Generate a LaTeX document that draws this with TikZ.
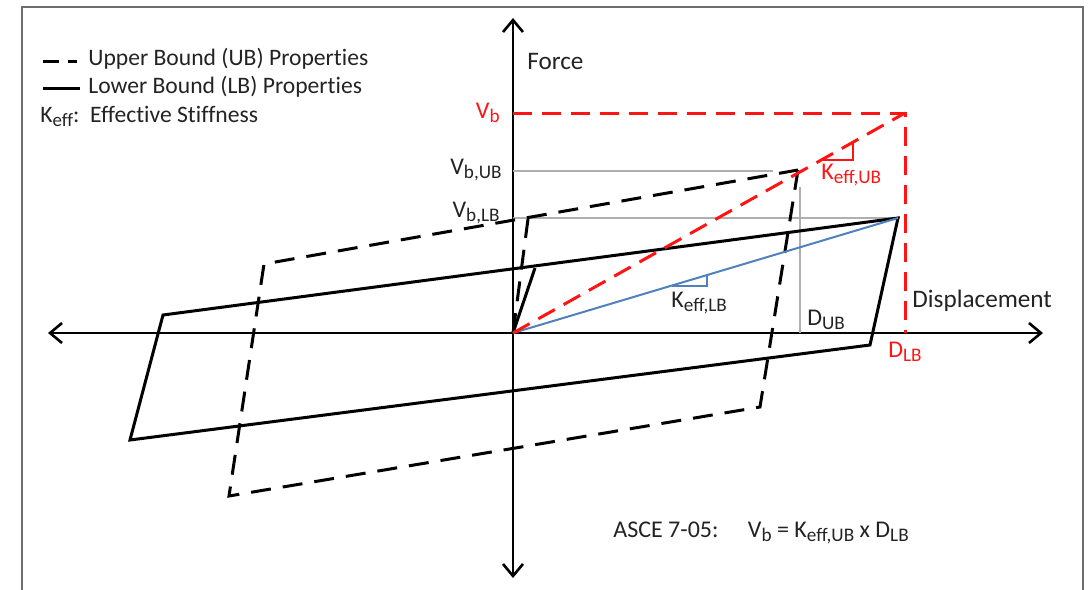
\documentclass[tikz,border=0pt]{standalone}
\usepackage{fontspec}
\setmainfont{Carlito}[RawFeature=-liga]
\usepackage{tikz}
\usetikzlibrary{arrows.meta, positioning}
\definecolor{boundred}{RGB}{255, 20, 20}
\definecolor{guidegray}{RGB}{175, 175, 175}
\definecolor{stiffblue}{RGB}{79, 129, 189}
\definecolor{framegray}{RGB}{110, 110, 110}
\definecolor{textdark}{RGB}{35, 35, 35}
\newcommand{\lowsub}[1]{\raisebox{-0.35ex}{\scalebox{0.8}{#1}}}

\begin{document}
\begin{tikzpicture}[x=0.5pt, y=-0.5pt,
		every node/.style={font=\fontsize{12}{14}\selectfont, text=textdark, inner sep=1pt},
		axis/.style={line width=1.3pt, -{Straight Barb[length=6pt, width=10pt]}},
		lbline/.style={line width=1.5pt, line join=miter},
		ubline/.style={line width=1.5pt, dash pattern=on 10pt off 6pt},
		vbline/.style={line width=1.5pt, draw=boundred, dash pattern=on 9.5pt off 5pt},
		guide/.style={line width=1pt, draw=guidegray},
		stiff/.style={line width=1pt, draw=stiffblue},
		redlabel/.style={text=boundred},
		axislabel/.style={anchor=west, font=\fontsize{12.6}{14}\selectfont},
		legendtext/.style={anchor=west, font=\fontsize{11.8}{14}\selectfont}]
		
		\useasboundingbox (0,0) rectangle (1089,590);
		\draw[line width=1pt, framegray] (22,600) -- (22,7) -- (1083,7) -- (1083,600);
		
		% axes
		\coordinate (o) at (513,333);
		\coordinate (xl) at (48,333);
		\coordinate (xr) at (1043,333);
		\coordinate (yt) at (513,18);
		\coordinate (yb) at (513,578);
		\draw[axis] (o) -- (xr);
		\draw[axis] (o) -- (xl);
		\draw[axis] (o) -- (yt);
		\draw[axis] (o) -- (yb);
		\node[axislabel] (force) at (525,61) {Force};
		\node[axislabel] (disp) at (910,301) {Displacement};
		
		% points of the loops
		\coordinate (vb) at (513,113);
		\coordinate (vbc) at (905,113);
		\coordinate (dlb) at (905,333);
		\coordinate (vub) at (513,171);
		\coordinate (vubend) at (773,171);
		\coordinate (vlb) at (513,218);
		\coordinate (vlbend) at (900,218);
		\coordinate (dub) at (800,333);
		\coordinate (dubtop) at (800,187);
		
		\coordinate (lb1) at (898,218);
		\coordinate (lb2) at (870,345);
		\coordinate (lb3) at (130,440);
		\coordinate (lb4) at (163,315);
		\coordinate (lb0) at (535,268);
		
		\coordinate (ub1) at (798,170);
		\coordinate (ub2) at (760,407);
		\coordinate (ub3) at (229,496);
		\coordinate (ub4) at (264,264);
		\coordinate (ub0) at (528,219);
		
		% guide lines
		\draw[guide] (vub) -- (vubend);
		\draw[guide] (vlb) -- (vlbend);
		\draw[guide] (dub) -- (dubtop);
		
		% lower bound loop
		\draw[lbline] (lb1) -- (lb2) -- (lb3) -- (lb4) -- cycle;
		\draw[lbline] (o) -- (lb0);
		
		% upper bound loop
		\draw[ubline] (ub1) -- (ub2) -- (ub3) -- (ub4) -- cycle;
		\draw[ubline] (o) -- (ub0);
		
		% stiffness lines
		\draw[stiff] (o) -- (lb1);
		\draw[stiff] (672,285.5) -- (707,285.5) -- (707,275);
		\draw[vbline] (vb) -- (vbc) -- (dlb);
		\draw[vbline] (o) -- (vbc);
		\draw[line width=1pt, boundred] (823,160) -- (853,160) -- (853,143);
		
		% labels
		\node[anchor=east, redlabel] (vblab) at (502,113) {V\lowsub{b}};
		\node[anchor=east] (vublab) at (504,170) {V\lowsub{b,UB}};
		\node[anchor=east] (vlblab) at (502,213) {V\lowsub{b,LB}};
		\node[anchor=west, redlabel] (kub) at (819,175) {K\lowsub{eff,UB}};
		\node[anchor=west] (klb) at (669,303) {K\lowsub{eff,LB}};
		\node[anchor=west] (dublab) at (805,320) {D\lowsub{UB}};
		\node[redlabel] (dlblab) at (905,352) {D\lowsub{LB}};
		\node[anchor=west] (asce) at (611,533) {ASCE 7-05:\quad\ V\lowsub{b} = K\lowsub{eff,UB} x D\lowsub{LB}};
		
		% legend
		\coordinate (leg1a) at (43,61);
		\coordinate (leg1b) at (77,61);
		\coordinate (leg2a) at (43,88);
		\coordinate (leg2b) at (80,88);
		\draw[line width=1.5pt, dash pattern=on 8pt off 4.5pt] (leg1a) -- (leg1b);
		\draw[lbline] (leg2a) -- (leg2b);
		\node[legendtext] (ubtext) at (86,59) {Upper Bound (UB) Properties};
		\node[legendtext] (lbtext) at (86,87) {Lower Bound (LB) Properties};
		\node[legendtext] (kefftext) at (38,116) {K\lowsub{eff}:\ \ Effective Stiffness};
	\end{tikzpicture}
\end{document}
